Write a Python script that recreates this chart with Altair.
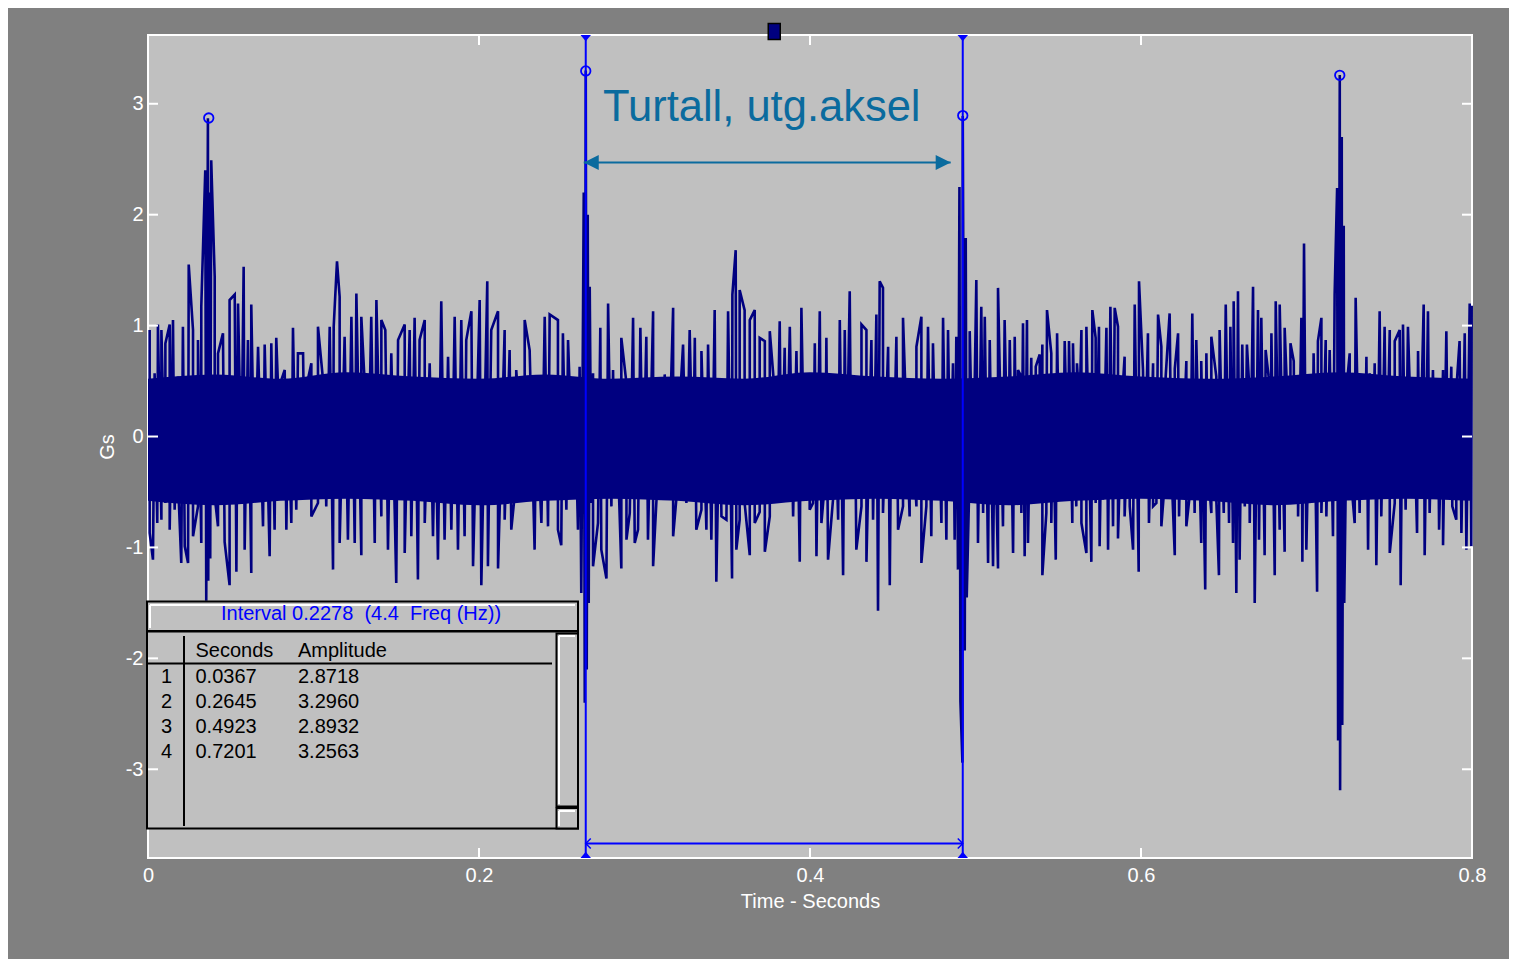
import altair as alt
import pandas as pd

# ---------------- data ----------------
# upper excursions of the vibration signal (time s, amplitude Gs)
hi_t = [0.0010,0.0040,0.0060,0.0081,0.0105,0.0131,0.0151,0.0181,0.0211,0.0246,0.0272,0.0302,0.0322,0.0346,0.0362,0.0372,0.0382,0.0403,0.0423,0.0453,
        0.0493,0.0524,0.0544,0.0578,0.0604,0.0624,0.0665,0.0705,0.0745,0.0775,0.0806,0.0826,0.0846,0.0876,0.0906,0.0937,0.0957,0.0987,0.1027,0.1067,
        0.1098,0.1122,0.1142,0.1158,0.1188,0.1229,0.1259,0.1289,0.1319,0.1349,0.1380,0.1410,0.1434,0.1470,0.1511,0.1551,0.1581,0.1611,0.1641,0.1672,
        0.1702,0.1736,0.1772,0.1813,0.1853,0.1893,0.1923,0.1954,0.2004,0.2050,0.2074,0.2115,0.2155,0.2185,0.2225,0.2276,0.2306,0.2346,0.2397,0.2427,
        0.2477,0.2507,0.2538,0.2578,0.2608,0.2633,0.2645,0.2657,0.2669,
        0.2689,0.2733,0.2780,0.2810,0.2860,0.2891,0.2931,0.2975,0.3011,0.3052,0.3082,0.3122,0.3173,0.3213,0.3233,0.3273,0.3304,0.3344,0.3384,0.3424,
        0.3455,0.3505,0.3531,0.3551,0.3575,0.3605,0.3636,0.3666,0.3696,0.3727,0.3757,0.3787,0.3817,0.3847,0.3878,0.3918,0.3948,0.3998,0.4029,0.4059,
        0.4099,0.4150,0.4180,0.4210,0.4240,0.4270,0.4311,0.4341,0.4371,0.4401,0.4421,0.4441,0.4472,0.4492,0.4522,0.4562,0.4602,0.4643,0.4673,0.4713,
        0.4743,0.4774,0.4804,0.4834,0.4864,0.4884,0.4903,0.4923,0.4941,0.4965,0.5005,0.5035,0.5056,0.5086,0.5116,0.5136,0.5176,0.5207,0.5237,0.5257,
        0.5277,0.5287,0.5311,0.5337,0.5364,0.5388,0.5404,0.5432,0.5458,0.5468,0.5493,0.5519,0.5539,0.5565,0.5589,0.5613,0.5629,0.5640,0.5670,0.5706,
        0.5726,0.5746,0.5766,0.5791,0.5815,0.5841,0.5861,0.5881,0.5901,0.5928,0.5962,0.5988,0.6012,0.6042,0.6073,0.6103,0.6123,0.6149,0.6173,0.6204,
        0.6224,0.6244,0.6274,0.6310,0.6334,0.6364,0.6395,0.6425,0.6455,0.6475,0.6512,0.6540,0.6560,0.6586,0.6612,0.6640,0.6653,0.6677,0.6707,0.6727,
        0.6753,0.6778,0.6788,0.6814,0.6838,0.6868,0.6903,0.6923,0.6949,0.6969,0.6985,0.7019,0.7043,0.7069,0.7090,0.7116,0.7140,0.7170,0.7185,0.7201,
        0.7213,0.7225,0.7237,0.7261,0.7297,0.7311,0.7331,0.7362,0.7382,0.7412,0.7442,0.7472,0.7503,0.7533,0.7563,0.7583,0.7613,0.7644,0.7674,0.7708,
        0.7734,0.7764,0.7795,0.7825,0.7845,0.7875,0.7905,0.7925,0.7956,0.7986,0.7998]
hi_v = [0.96,0.57,1.01,0.96,0.84,1.01,1.05,0.54,0.99,1.55,0.96,0.87,1.17,2.40,2.87,2.20,2.49,1.44,0.75,0.93,
        1.23,1.28,1.20,1.53,0.87,1.19,0.81,0.83,0.84,0.89,0.51,0.60,0.27,0.98,0.75,0.75,0.45,0.66,0.99,0.36,
        0.99,0.99,1.58,1.26,0.90,1.08,1.29,1.08,0.19,1.08,1.23,1.05,0.96,0.75,0.87,1.01,0.96,1.07,0.87,1.05,
        0.66,0.30,1.22,0.72,1.08,1.05,0.87,1.13,1.23,1.40,0.96,1.13,0.96,0.78,0.60,1.05,0.78,0.30,1.08,1.10,
        1.05,0.93,0.87,0.45,0.63,2.20,3.30,2.00,1.35,
        0.57,0.98,1.20,0.60,0.89,0.48,1.07,0.98,0.90,1.13,0.39,0.56,1.16,0.30,0.83,0.96,0.89,0.77,0.83,1.14,
        0.42,1.13,1.28,1.68,1.32,1.14,1.05,1.14,0.89,0.86,0.95,0.39,1.04,0.80,0.99,0.77,1.16,0.39,0.84,1.13,
        0.89,0.36,1.05,0.96,1.31,0.50,1.01,0.96,0.87,1.10,1.40,1.34,0.81,0.46,0.90,1.07,0.50,0.81,1.08,0.99,
        0.84,0.51,1.07,0.96,0.66,0.90,2.25,2.89,1.79,0.95,1.41,1.17,1.08,0.87,0.24,1.34,1.05,0.87,0.90,0.60,
        0.54,1.02,1.05,0.71,0.63,0.74,0.83,1.14,0.75,0.27,0.93,0.54,0.86,0.86,0.84,0.66,0.27,0.96,0.99,1.14,
        0.89,0.99,0.54,0.98,1.17,1.16,0.99,0.24,0.72,0.42,1.19,1.40,0.60,0.93,0.66,1.10,0.81,0.54,1.11,0.61,
        0.93,0.36,0.68,1.11,0.87,0.68,0.75,0.90,0.54,0.96,1.19,0.99,1.22,1.31,0.83,0.83,0.48,1.35,1.14,1.07,
        0.78,0.45,0.93,1.22,1.19,0.98,0.84,0.68,0.36,1.07,1.74,0.43,0.75,0.86,1.07,0.87,0.78,1.28,2.24,3.26,
        2.70,1.90,0.36,0.75,1.25,0.15,0.54,0.72,0.57,0.66,1.13,0.99,0.96,0.86,0.96,1.01,0.99,0.52,0.77,1.19,
        1.13,0.60,0.31,0.60,0.95,0.63,0.42,0.86,0.93,1.20,1.18]

# lower excursions of the vibration signal
lo_t = [0.0010,0.0030,0.0056,0.0081,0.0105,0.0131,0.0161,0.0185,0.0201,0.0222,0.0242,0.0272,0.0302,0.0322,0.0352,0.0364,0.0376,0.0403,0.0423,0.0463,
        0.0493,0.0534,0.0564,0.0584,0.0624,0.0644,0.0695,0.0735,0.0765,0.0806,0.0836,0.0866,0.0896,0.0947,0.0987,0.1027,0.1077,0.1118,0.1158,0.1208,
        0.1249,0.1289,0.1329,0.1370,0.1410,0.1450,0.1500,0.1551,0.1591,0.1631,0.1672,0.1722,0.1752,0.1792,0.1833,0.1873,0.1913,0.1964,0.2014,0.2054,
        0.2115,0.2155,0.2195,0.2225,0.2276,0.2336,0.2377,0.2417,0.2477,0.2497,0.2528,0.2568,0.2598,0.2618,0.2639,0.2651,0.2663,
        0.2679,0.2689,0.2719,0.2739,0.2770,0.2800,0.2820,0.2840,0.2860,0.2891,0.2911,0.2941,0.2961,0.2991,0.3021,0.3052,0.3082,0.3112,0.3142,0.3173,
        0.3213,0.3253,0.3293,0.3313,0.3344,0.3374,0.3404,0.3434,0.3465,0.3495,0.3529,0.3555,0.3575,0.3605,0.3636,0.3666,0.3696,0.3727,0.3757,0.3797,
        0.3827,0.3857,0.3898,0.3938,0.3968,0.3998,0.4018,0.4039,0.4069,0.4093,0.4109,0.4139,0.4170,0.4200,0.4220,0.4250,0.4280,0.4311,0.4341,0.4381,
        0.4411,0.4441,0.4482,0.4502,0.4532,0.4562,0.4602,0.4643,0.4673,0.4703,0.4733,0.4763,0.4794,0.4824,0.4848,0.4874,0.4894,0.4909,0.4921,0.4935,
        0.4947,0.4965,0.4985,0.5015,0.5046,0.5076,0.5106,0.5136,0.5166,0.5197,0.5227,0.5247,
        0.5277,0.5297,0.5317,0.5343,0.5364,0.5388,0.5404,0.5428,0.5458,0.5485,0.5509,0.5529,0.5559,0.5585,0.5609,0.5640,0.5670,0.5700,0.5726,0.5750,
        0.5770,0.5801,0.5831,0.5861,0.5871,0.5901,0.5932,0.5952,0.5986,0.6022,0.6048,0.6073,0.6093,0.6123,0.6143,0.6183,0.6204,0.6230,0.6250,0.6274,
        0.6298,0.6324,0.6364,0.6388,0.6405,0.6425,0.6455,0.6471,0.6500,0.6532,0.6556,0.6576,0.6596,0.6627,0.6657,0.6687,0.6713,0.6747,0.6781,0.6808,
        0.6838,0.6868,0.6903,0.6929,0.6949,0.6975,0.6999,0.7035,0.7064,0.7090,0.7120,0.7160,0.7191,0.7203,0.7216,0.7228,0.7237,0.7261,0.7291,0.7321,
        0.7352,0.7372,0.7398,0.7422,0.7452,0.7482,0.7503,0.7533,0.7569,0.7599,0.7640,0.7668,0.7684,0.7714,0.7744,0.7775,0.7801,0.7825,0.7855,0.7881,
        0.7905,0.7936,0.7966,0.7996]
lo_v = [-0.87,-1.11,-0.78,-0.75,-0.60,-0.84,-0.66,-0.54,-1.14,-0.99,-1.14,-0.90,-0.63,-0.96,-1.48,-1.30,-1.10,-0.54,-0.81,-0.95,
        -1.34,-1.22,-0.30,-1.02,-1.23,-0.50,-0.81,-1.08,-0.84,-0.39,-0.84,-0.78,-0.66,-0.36,-0.72,-0.60,-0.63,-1.20,-0.96,-0.93,
        -0.96,-1.07,-0.48,-0.96,-0.72,-1.02,-1.32,-1.05,-0.90,-1.29,-0.78,-0.90,-1.11,-0.93,-0.84,-1.02,-0.90,-1.17,-1.34,-1.17,
        -1.19,-0.75,-0.84,-0.39,-0.54,-1.02,-0.78,-0.81,-0.84,-0.98,-0.66,-0.44,-0.84,-1.41,-2.40,-2.10,-1.50,
        -0.60,-1.17,-0.78,-1.02,-1.28,-0.63,-0.50,-0.24,-1.19,-0.93,-0.69,-0.96,-0.84,-0.54,-0.93,-1.17,-0.29,-0.36,-0.51,-0.90,
        -0.21,-0.60,-0.45,-0.84,-0.66,-0.84,-0.93,-1.31,-0.72,-0.75,-1.28,-1.02,-0.75,-0.60,-1.07,-0.78,-0.68,-1.04,-0.72,-0.60,
        -0.59,-0.54,-0.72,-1.13,-0.56,-0.66,-0.60,-1.08,-0.78,-0.36,-1.11,-0.57,-0.75,-1.25,-0.44,-0.54,-1.02,-0.63,-1.13,-0.75,
        -1.57,-0.69,-1.34,-0.51,-0.84,-0.63,-0.72,-0.63,-1.14,-0.63,-0.90,-0.54,-0.78,-0.93,-0.48,-0.93,-1.20,-2.39,-2.94,-1.93,
        -1.45,-0.27,-0.48,-0.96,-0.69,-1.14,-1.17,-1.19,-0.81,-0.51,-1.05,-0.42,
        -0.69,-1.08,-0.96,-0.36,-0.54,-0.60,-1.25,-0.69,-0.78,-1.11,-0.54,-0.48,-0.42,-0.78,-0.63,-0.78,-1.05,-1.13,-0.60,-0.99,
        -0.57,-1.02,-0.81,-0.92,-0.39,-0.72,-0.63,-1.02,-1.22,-0.42,-0.78,-0.63,-0.60,-0.81,-0.42,-0.26,-1.07,-0.72,-0.30,-0.81,
        -0.48,-0.69,-0.96,-1.38,-0.30,-0.69,-0.57,-1.25,-0.69,-0.78,-0.96,-1.41,-1.11,-0.63,-0.78,-1.50,-0.93,-1.07,-0.60,-1.25,
        -0.84,-1.04,-0.39,-0.54,-0.72,-1.13,-1.02,-0.48,-1.40,-0.69,-0.72,-0.90,-2.74,-3.19,-2.60,-1.50,-0.45,-0.24,-0.78,-0.69,
        -0.42,-1.02,-0.45,-1.16,-0.72,-0.54,-1.05,-0.60,-1.34,-0.66,-0.36,-0.87,-0.39,-1.07,-0.69,-0.42,-0.84,-0.98,-0.39,-0.63,
        -0.75,-0.87,-1.02,-0.99]

# solid core of the trace (edges of the filled band)
core_t  = [0.00,0.04,0.08,0.12,0.16,0.20,0.24,0.28,0.32,0.36,0.40,0.44,0.48,0.52,0.56,0.60,0.64,0.68,0.72,0.76,0.80]
core_hi = [0.52,0.56,0.52,0.58,0.54,0.52,0.56,0.52,0.54,0.52,0.58,0.54,0.52,0.54,0.58,0.54,0.52,0.54,0.58,0.54,0.52]
core_lo = [-0.58,-0.62,-0.58,-0.56,-0.58,-0.62,-0.58,-0.56,-0.58,-0.62,-0.58,-0.56,-0.58,-0.62,-0.58,-0.56,-0.58,-0.62,-0.58,-0.56,-0.58]

# peak table
peak_no   = [1, 2, 3, 4]
peak_sec  = [0.0367, 0.2645, 0.4923, 0.7201]
peak_amp  = [2.8718, 3.2960, 2.8932, 3.2563]

# cursors / annotation
cursor_t  = [0.2645, 0.4923]
arrow_t   = [0.2633, 0.4850]
arrow_v   = 2.47
bar_v     = -3.67
note_text = "Turtall, utg.aksel"

x_ticks = [0, 0.2, 0.4, 0.6, 0.8]
y_ticks = [-3, -2, -1, 0, 1, 2, 3]
x_title = "Time - Seconds"
y_title = "Gs"

# ---------------- layout / style ----------------
W, H = 1324, 823
NAVY, BLUE, TEAL = "#000080", "#0000ff", "#0a6b9e"
FONT = "Liberation Sans"

xs = alt.Scale(domain=[0, 0.8], nice=False, zero=False)
ys = alt.Scale(domain=[-3.8, 3.62], nice=False, zero=False)
xaxis = alt.Axis(values=x_ticks, labelExpr="'' + datum.value", title=x_title,
                 labelPadding=7, titlePadding=6, labelFlush=False)
yaxis = alt.Axis(values=y_ticks, labelExpr="'' + datum.value", title=y_title,
                 labelPadding=5, titlePadding=8, labelFlush=False)

def X(f):
    return alt.X(f, scale=xs, axis=xaxis)

def Y(f):
    return alt.Y(f, scale=ys, axis=yaxis)

sig = pd.DataFrame({"t": hi_t + lo_t, "v": hi_v + lo_v}).sort_values("t").reset_index(drop=True)
core = pd.DataFrame({"t": core_t, "hi": core_hi, "lo": core_lo})
peaks = pd.DataFrame({"t": peak_sec, "v": peak_amp})
curs = pd.DataFrame({"t": cursor_t})
bar = pd.DataFrame({"t0": [cursor_t[0]], "t1": [cursor_t[1]], "v": [bar_v]})
arr = pd.DataFrame({"t0": [arrow_t[0]], "t1": [arrow_t[1]], "v": [arrow_v]})
handle = pd.DataFrame({"t": [(cursor_t[0] + cursor_t[1]) / 2]})
one = pd.DataFrame({"k": [0]})
xt = pd.DataFrame({"t": x_ticks})
yt = pd.DataFrame({"v": y_ticks})

layers = []
layers.append(alt.Chart(core).mark_area(color=NAVY, opacity=1, interpolate="monotone").encode(
    x=X("t:Q"), y=Y("lo:Q"), y2="hi:Q"))
layers.append(alt.Chart(sig).mark_line(color=NAVY, strokeWidth=2.6).encode(
    x=X("t:Q"), y=Y("v:Q"), order="t:Q"))

# cursors
layers.append(alt.Chart(curs).mark_rule(color=BLUE, strokeWidth=2).encode(
    x=X("t:Q"), y=alt.value(0), y2=alt.value(H)))
layers.append(alt.Chart(bar).mark_rule(color=BLUE, strokeWidth=2).encode(
    x=X("t0:Q"), x2="t1:Q", y=Y("v:Q")))
layers.append(alt.Chart(bar).mark_point(shape="M1,-1 L0,0 L1,1", size=100, color=BLUE,
                                        filled=False, strokeWidth=1.5, opacity=1).encode(
    x=X("t0:Q"), y=Y("v:Q")))
layers.append(alt.Chart(bar).mark_point(shape="M-1,-1 L0,0 L-1,1", size=100, color=BLUE,
                                        filled=False, strokeWidth=1.5, opacity=1).encode(
    x=X("t1:Q"), y=Y("v:Q")))
layers.append(alt.Chart(curs).mark_point(shape="M-1,0 L1,0 L0,1.2 Z", size=110, color=BLUE,
                                         filled=True, opacity=1).encode(
    x=X("t:Q"), y=alt.value(0)))
layers.append(alt.Chart(curs).mark_point(shape="M-1,0 L1,0 L0,-1.2 Z", size=110, color=BLUE,
                                         filled=True, opacity=1).encode(
    x=X("t:Q"), y=alt.value(H)))

# peak markers
layers.append(alt.Chart(peaks).mark_point(shape="circle", size=90, color=BLUE, filled=False,
                                          strokeWidth=1.8, opacity=1).encode(
    x=X("t:Q"), y=Y("v:Q")))

# teal double arrow + label
layers.append(alt.Chart(arr).mark_rule(color=TEAL, strokeWidth=2).encode(
    x=X("t0:Q"), x2="t1:Q", y=Y("v:Q")))
layers.append(alt.Chart(arr).mark_point(shape="M0,0 L1,-0.5 L1,0.5 Z", size=900, color=TEAL,
                                        filled=True, opacity=1).encode(x=X("t0:Q"), y=Y("v:Q")))
layers.append(alt.Chart(arr).mark_point(shape="M0,0 L-1,-0.5 L-1,0.5 Z", size=900, color=TEAL,
                                        filled=True, opacity=1).encode(x=X("t1:Q"), y=Y("v:Q")))
layers.append(alt.Chart(one).mark_text(text=note_text, font=FONT, fontSize=43.5, color=TEAL,
                                       align="left", baseline="alphabetic").encode(
    x=alt.value(455), y=alt.value(86)))

# cursor handle
layers.append(alt.Chart(handle).mark_point(shape="M-0.75,-1 L0.75,-1 L0.75,1 L-0.75,1 Z", size=256,
                                           fill=NAVY, stroke="black", strokeWidth=1.5,
                                           filled=True, opacity=1).encode(
    x=X("t:Q"), y=alt.value(-3.5)))

# ---------------- peak table panel ----------------
def box(x1, y1, x2, y2, fill="#c0c0c0", stroke="black", sw=2):
    return alt.Chart(one).mark_rect(fill=fill, stroke=stroke, strokeWidth=sw).encode(
        x=alt.value(x1), x2=alt.value(x2), y=alt.value(y1), y2=alt.value(y2))

def line(x1, y1, x2, y2, color="black", sw=2):
    return alt.Chart(one).mark_rule(color=color, strokeWidth=sw).encode(
        x=alt.value(x1), x2=alt.value(x2), y=alt.value(y1), y2=alt.value(y2))

layers += [
    box(-1, 566.5, 430, 596),
    line(2, 570, 427, 570, "white", 2), line(2, 570, 2, 593, "white", 2),
    box(-1, 596.5, 430, 793.5),
    line(36, 601, 36, 791),
    line(0, 628.5, 404, 628.5),
    box(408.5, 598.5, 430, 771.5),
    line(411, 601, 427, 601, "white", 2), line(411, 601, 411, 769, "white", 2),
    box(408.5, 773, 430, 793.5),
    line(411, 776, 427, 776, "white", 2), line(411, 776, 411, 791, "white", 2),
]

interval = peak_sec[2] - peak_sec[1]
freq = 1.0 / interval
nb = "\u00a0"
header = f"Interval {interval:.4f}{nb}{nb}({freq:.1f}{nb}{nb}Freq (Hz))"
layers.append(alt.Chart(one).mark_text(text=header, font=FONT, fontSize=20, color=BLUE,
                                       align="center", baseline="middle").encode(
    x=alt.value(213), y=alt.value(579)))
layers.append(alt.Chart(one).mark_text(text="Seconds", font=FONT, fontSize=20, color="black",
                                       align="left", baseline="alphabetic").encode(
    x=alt.value(47.5), y=alt.value(621.5)))
layers.append(alt.Chart(one).mark_text(text="Amplitude", font=FONT, fontSize=20, color="black",
                                       align="left", baseline="alphabetic").encode(
    x=alt.value(150), y=alt.value(621.5)))
layers.append(alt.Chart(one).mark_text(font=FONT, fontSize=20, color="black", align="center",
                                       baseline="alphabetic", lineHeight=25).encode(
    x=alt.value(18.5), y=alt.value(647.5), text=alt.value([str(n) for n in peak_no])))
layers.append(alt.Chart(one).mark_text(font=FONT, fontSize=20, color="black", align="left",
                                       baseline="alphabetic", lineHeight=25).encode(
    x=alt.value(47.5), y=alt.value(647.5), text=alt.value([f"{s:.4f}" for s in peak_sec])))
layers.append(alt.Chart(one).mark_text(font=FONT, fontSize=20, color="black", align="left",
                                       baseline="alphabetic", lineHeight=25).encode(
    x=alt.value(150), y=alt.value(647.5), text=alt.value([f"{a:.4f}" for a in peak_amp])))

# inner white ticks (MATLAB style) on all four sides
layers.append(alt.Chart(yt).mark_rule(color="white", strokeWidth=2).encode(
    y=Y("v:Q"), x=alt.value(0), x2=alt.value(10)))
layers.append(alt.Chart(yt).mark_rule(color="white", strokeWidth=2).encode(
    y=Y("v:Q"), x=alt.value(W - 10), x2=alt.value(W)))
layers.append(alt.Chart(xt).mark_rule(color="white", strokeWidth=2).encode(
    x=X("t:Q"), y=alt.value(H - 10), y2=alt.value(H)))
layers.append(alt.Chart(xt).mark_rule(color="white", strokeWidth=2).encode(
    x=X("t:Q"), y=alt.value(0), y2=alt.value(10)))

chart = alt.layer(*layers).properties(
    width=W, height=H,
    padding={"left": 140, "top": 27, "right": 37, "bottom": 101},
    autosize=alt.AutoSizeParams(type="none"),
    background="#808080",
).configure_view(
    fill="#c0c0c0", stroke="white", strokeWidth=2
).configure_axis(
    domain=False, ticks=False, grid=False,
    labelColor="white", labelFont=FONT, labelFontSize=20,
    titleColor="white", titleFont=FONT, titleFontSize=20, titleFontWeight="normal",
)

chart.save("out.html", embed_options={"renderer": "svg", "actions": False})
